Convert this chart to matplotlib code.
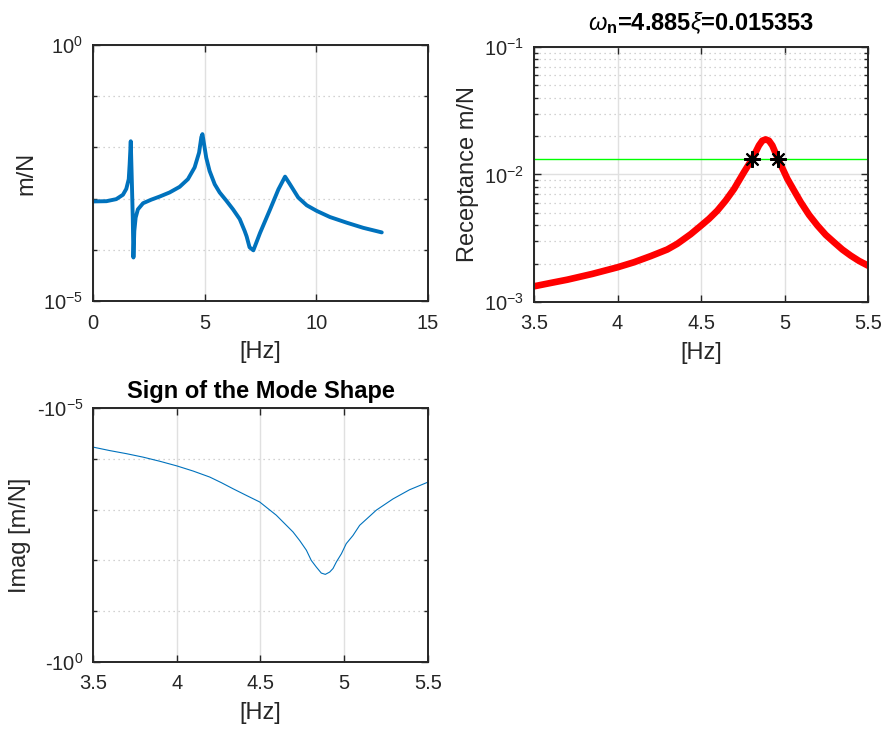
import numpy as np
import matplotlib
matplotlib.use('Agg')
import matplotlib.pyplot as plt
from matplotlib.ticker import FixedLocator, LogLocator, LogFormatterSciNotation, NullFormatter

plt.rcParams['font.family'] = ['Liberation Sans', 'DejaVu Sans']
plt.rcParams['mathtext.fontset'] = 'custom'
plt.rcParams['mathtext.rm'] = 'Liberation Sans'
plt.rcParams['mathtext.it'] = 'Liberation Sans:italic'
plt.rcParams['mathtext.bf'] = 'Liberation Sans:bold'
plt.rcParams['mathtext.default'] = 'regular'
plt.rcParams['axes.unicode_minus'] = False

# full FRF magnitude (m/N)
freq_full = [0.0, 0.60, 1.04, 1.34, 1.49, 1.60, 1.64, 1.69, 1.73, 1.78, 1.81,
             1.85, 1.91, 2.01, 2.24, 2.61, 2.99, 3.43, 3.88, 4.25, 4.55, 4.75,
             4.85, 4.90, 4.97, 5.07, 5.22, 5.45, 5.67, 5.97, 6.27, 6.57, 6.79,
             6.88, 7.01, 7.18, 7.48, 7.93, 8.30, 8.60, 8.82, 9.19, 9.57, 10.02,
             10.61, 11.36, 12.10, 12.93]
mag_full = [8.81e-4, 8.91e-4, 9.77e-4, 1.19e-3, 1.55e-3, 2.40e-3, 4.68e-3,
            1.32e-2, 3.02e-3, 4.27e-4, 7.08e-5, 2.34e-4, 4.27e-4, 6.17e-4,
            8.13e-4, 9.55e-4, 1.10e-3, 1.32e-3, 1.70e-3, 2.40e-3, 4.07e-3,
            7.94e-3, 1.585e-2, 1.82e-2, 1.175e-2, 6.31e-3, 3.47e-3, 1.905e-3,
            1.32e-3, 9.12e-4, 6.17e-4, 3.98e-4, 2.34e-4, 1.82e-4, 1.12e-4,
            9.77e-5, 2.14e-4, 6.17e-4, 1.51e-3, 2.69e-3, 1.905e-3, 1.05e-3,
            7.41e-4, 5.75e-4, 4.37e-4, 3.39e-4, 2.69e-4, 2.19e-4]

# zoom around the 4.885 Hz mode
freq_zoom = [3.50, 3.60, 3.70, 3.849, 4.00, 4.099, 4.199, 4.298, 4.358, 4.438,
             4.498, 4.548, 4.598, 4.648, 4.698, 4.757, 4.807, 4.847, 4.867,
             4.887, 4.907, 4.927, 4.961, 5.017, 5.057, 5.097, 5.147, 5.197,
             5.247, 5.296, 5.346, 5.396, 5.446, 5.50]
recept = [1.327e-3, 1.41e-3, 1.496e-3, 1.66e-3, 1.871e-3, 2.05e-3, 2.29e-3,
          2.58e-3, 2.86e-3, 3.40e-3, 3.95e-3, 4.49e-3, 5.21e-3, 6.25e-3,
          7.71e-3, 1.042e-2, 1.327e-2, 1.69e-2, 1.84e-2, 1.884e-2, 1.84e-2,
          1.69e-2, 1.327e-2, 9.25e-3, 7.48e-3, 6.07e-3, 4.82e-3, 3.98e-3,
          3.36e-3, 2.944e-3, 2.58e-3, 2.312e-3, 2.10e-3, 1.928e-3]
half_power_freq = [4.807, 4.961]
half_power_level = 0.0133
wn = 4.885
xi = 0.015353

# imaginary part (negative) around the mode
freq_imag = [3.50, 3.60, 3.70, 3.80, 3.90, 4.00, 4.097, 4.197, 4.266, 4.336,
             4.415, 4.495, 4.594, 4.694, 4.734, 4.774, 4.803, 4.833, 4.863,
             4.887, 4.913, 4.933, 4.953, 4.983, 5.012, 5.052, 5.092, 5.192,
             5.291, 5.39, 5.50]
imag_part = [-5.89e-5, -6.9e-5, -7.94e-5, -9.3e-5, -1.122e-4, -1.38e-4,
             -1.74e-4, -2.29e-4, -2.95e-4, -3.89e-4, -5.25e-4, -7.08e-4,
             -1.288e-3, -2.754e-3, -4.07e-3, -6.31e-3, -1.0e-2, -1.349e-2,
             -1.778e-2, -1.884e-2, -1.698e-2, -1.445e-2, -1.072e-2, -7.41e-3,
             -4.68e-3, -3.24e-3, -2.042e-3, -1.023e-3, -6.17e-4, -4.07e-4,
             -2.88e-4]

zoom_ticks = [3.5, 4, 4.5, 5, 5.5]
zoom_ticklabels = ['3.5', '4', '4.5', '5', '5.5']

fig = plt.figure(figsize=(8.85, 7.31), dpi=100)

def style(ax):
    for s in ax.spines.values():
        s.set_color('#262626')
        s.set_linewidth(1.4)
    ax.tick_params(which='both', direction='in', top=True, right=True,
                   colors='#262626', labelsize=14.5, width=1.0)
    ax.tick_params(which='major', length=5)
    ax.tick_params(which='minor', length=3)
    ax.tick_params(axis='x', which='both', pad=9)
    ax.tick_params(axis='y', which='both', pad=7)
    ax.grid(True, which='major', color='#e0e0e0', linewidth=1)
    ax.grid(True, which='minor', axis='y', color='#c4c4c4', linestyle=(0, (1, 3)), linewidth=0.9)
    ax.set_axisbelow(True)

# panel 1
ax1 = fig.add_axes([0.1051, 0.5882, 0.3785, 0.3502])
ax1.semilogy(freq_full, mag_full, color='#0072BD', linewidth=2.8,
             solid_joinstyle='round', solid_capstyle='round')
ax1.set_xlim(0, 15)
ax1.set_ylim(1e-5, 1)
ax1.set_xticks([0, 5, 10, 15])
ax1.yaxis.set_major_locator(FixedLocator([1e-5, 1]))
ax1.yaxis.set_minor_locator(FixedLocator([1e-4, 1e-3, 1e-2, 1e-1]))
ax1.yaxis.set_major_formatter(LogFormatterSciNotation())
ax1.yaxis.set_minor_formatter(NullFormatter())
ax1.set_xlabel('[Hz]', fontsize=17, color='#262626', labelpad=6)
ax1.set_ylabel('m/N', fontsize=17, color='#262626')
style(ax1)

# panel 2
ax2 = fig.add_axes([0.6034, 0.5869, 0.3774, 0.3488])
ax2.semilogy(freq_zoom, recept, color='red', linewidth=4.8, solid_joinstyle='round')
ax2.axhline(half_power_level, color='#00ff00', linewidth=1)
ax2.plot(half_power_freq, [half_power_level] * 2, linestyle='none', marker=(8, 2, 0),
         color='black', markersize=12, markeredgewidth=1.5)
ax2.set_xlim(3.5, 5.5)
ax2.set_ylim(1e-3, 1e-1)
ax2.set_xticks(zoom_ticks)
ax2.set_xticklabels(zoom_ticklabels)
ax2.yaxis.set_major_locator(LogLocator(base=10))
ax2.yaxis.set_minor_locator(LogLocator(base=10, subs=np.arange(2, 10)))
ax2.yaxis.set_major_formatter(LogFormatterSciNotation())
ax2.yaxis.set_minor_formatter(NullFormatter())
ax2.set_xlabel('[Hz]', fontsize=17, color='#262626', labelpad=6)
ax2.set_ylabel('Receptance m/N', fontsize=17, color='#262626')
ax2.set_title(r'$\mathit{\omega}_{\mathbf{n}}$=' + f'{wn}' + r'$\mathit{\xi}$=' + f'{xi}',
              fontsize=17, fontweight='bold', pad=12)
style(ax2)

# panel 3
ax3 = fig.add_axes([0.1051, 0.0944, 0.3785, 0.3475])
ax3.semilogy(freq_imag, np.abs(imag_part), color='#0072BD', linewidth=0.8)
ax3.set_xlim(3.5, 5.5)
ax3.set_ylim(1, 1e-5)
ax3.set_xticks(zoom_ticks)
ax3.set_xticklabels(zoom_ticklabels)
ax3.yaxis.set_major_locator(FixedLocator([1e-5, 1]))
ax3.yaxis.set_minor_locator(FixedLocator([1e-4, 1e-3, 1e-2, 1e-1]))
ax3.set_yticklabels([r'-$\mathdefault{10^{-5}}$', r'-$\mathdefault{10^{0}}$'])
ax3.yaxis.set_minor_formatter(NullFormatter())
ax3.set_xlabel('[Hz]', fontsize=17, color='#262626', labelpad=6)
ax3.set_ylabel('Imag [m/N]', fontsize=17, color='#262626')
ax3.set_title('Sign of the Mode Shape', fontsize=17, fontweight='bold', pad=7)
style(ax3)

fig.savefig('out.png', dpi=100)
